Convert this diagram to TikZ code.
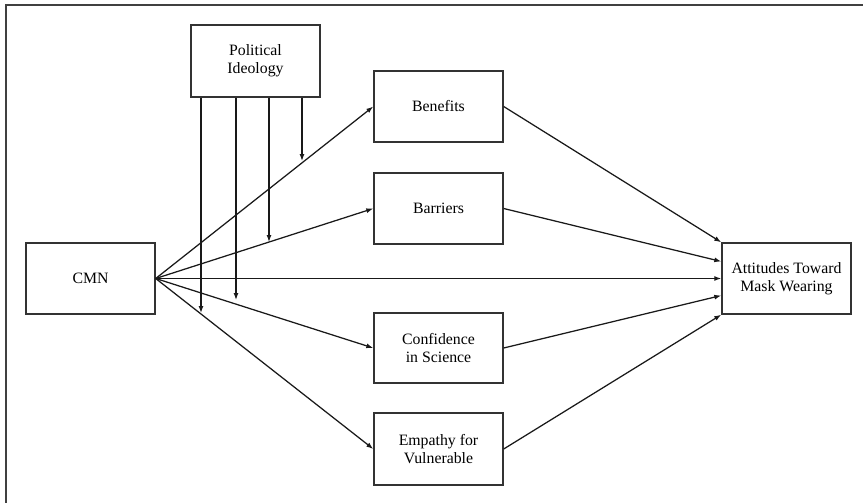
\documentclass[tikz,border=0pt]{standalone}
\usepackage{fontspec}
\setmainfont{Liberation Serif}
\usetikzlibrary{arrows.meta}
\begin{document}
\begin{tikzpicture}[x=1pt,y=-1pt,
  box/.style={draw=black!80,line width=1.4pt,rectangle,minimum width=129pt,minimum height=71pt,inner sep=2pt,align=center,
    font=\fontsize{15.8pt}{18pt}\selectfont},
  arr/.style={draw=black!90,line width=1.25pt,-{Latex[length=7pt,width=5pt]}}]
\useasboundingbox (0,0) rectangle (863,503);
\draw[black!75,line width=1.5pt] (6,503) -- (6,5) -- (863,5);
\node[box,minimum height=72pt] (pi) at (255.5,61) {Political\\Ideology};
\node[box] (ben) at (438.5,106.5) {Benefits};
\node[box] (bar) at (438.5,208.5) {Barriers};
\node[box,minimum height=70pt] (conf) at (438.5,348) {Confidence\\in Science};
\node[box,minimum height=72pt] (emp) at (438.5,449) {Empathy for\\Vulnerable};
\node[box] (cmn) at (90.5,278.5) {CMN};
\node[box] (att) at (786.5,278.5) {Attitudes Toward\\Mask Wearing};
\draw[arr] (cmn.east) -- (ben.west);
\draw[arr] (cmn.east) -- (bar.west);
\draw[arr] (cmn.east) -- (att.west);
\draw[arr] (cmn.east) -- (conf.west);
\draw[arr] (cmn.east) -- (emp.west);
\draw[arr] (ben.east) -- (att.north west);
\draw[arr] (bar.east) -- ([yshift=17pt]att.west);
\draw[arr] (conf.east) -- ([yshift=-17pt]att.west);
\draw[arr] (emp.east) -- (att.south west);
\coordinate (m1) at (201,313);
\coordinate (m2) at (236,300);
\coordinate (m3) at (269,242);
\coordinate (m4) at (302,161);
\draw[arr] (pi.south -| m1) -- (m1);
\draw[arr] (pi.south -| m2) -- (m2);
\draw[arr] (pi.south -| m3) -- (m3);
\draw[arr] (pi.south -| m4) -- (m4);
\end{tikzpicture}
\end{document}
